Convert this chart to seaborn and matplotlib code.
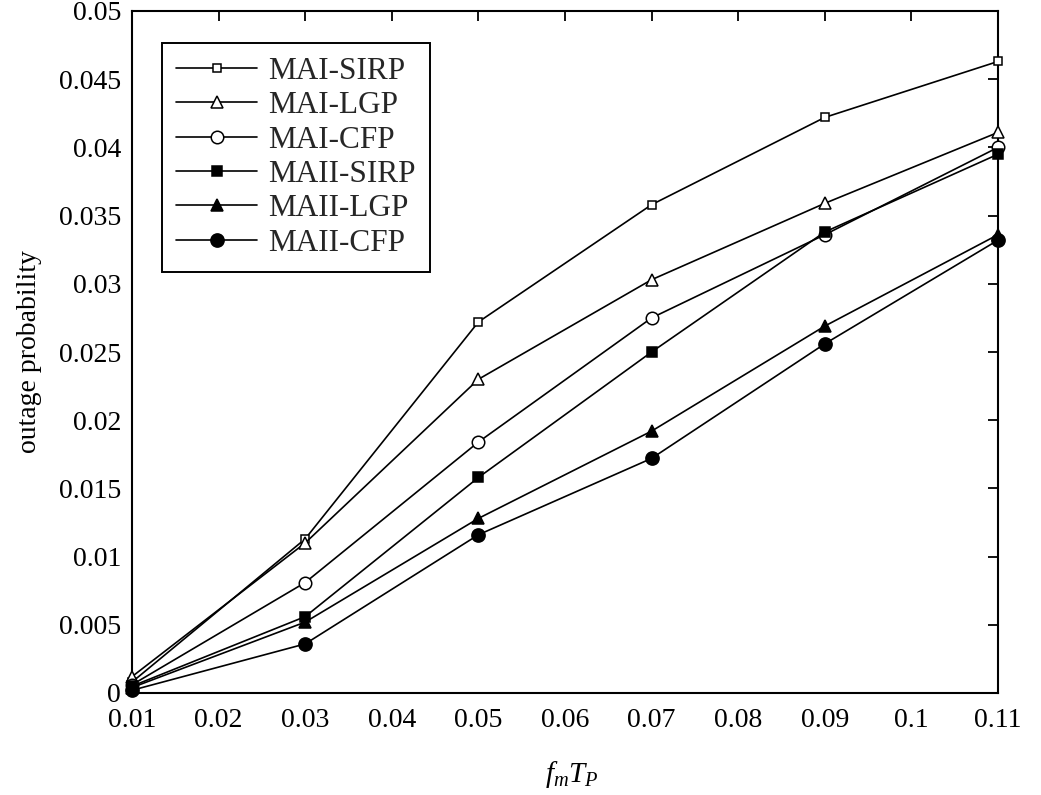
import matplotlib
matplotlib.use("Agg")
import matplotlib.pyplot as plt
import seaborn as sns
import pandas as pd

x_vals = [0.01, 0.03, 0.05, 0.07, 0.09, 0.11]

mai_sirp = [0.0008, 0.0113, 0.0272, 0.0358, 0.0422, 0.0463]
mai_lgp = [0.0012, 0.0110, 0.0230, 0.0303, 0.0359, 0.0411]
mai_cfp = [0.0006, 0.0081, 0.0184, 0.0275, 0.0336, 0.0400]
maii_sirp = [0.0005, 0.0056, 0.0158, 0.0250, 0.0338, 0.0395]
maii_lgp = [0.0004, 0.0052, 0.0128, 0.0192, 0.0269, 0.0336]
maii_cfp = [0.0002, 0.0036, 0.0116, 0.0172, 0.0256, 0.0332]

series_names = ["MAI-SIRP", "MAI-LGP", "MAI-CFP", "MAII-SIRP", "MAII-LGP", "MAII-CFP"]
series_vals = [mai_sirp, mai_lgp, mai_cfp, maii_sirp, maii_lgp, maii_cfp]

x_ticks = [0.01, 0.02, 0.03, 0.04, 0.05, 0.06, 0.07, 0.08, 0.09, 0.1, 0.11]
x_tick_labels = ["0.01", "0.02", "0.03", "0.04", "0.05", "0.06", "0.07", "0.08", "0.09", "0.1", "0.11"]
y_ticks = [0, 0.005, 0.01, 0.015, 0.02, 0.025, 0.03, 0.035, 0.04, 0.045, 0.05]
y_tick_labels = ["0", "0.005", "0.01", "0.015", "0.02", "0.025", "0.03", "0.035", "0.04", "0.045", "0.05"]

sns.set_theme(style="white")
plt.rcParams["font.family"] = ["Liberation Serif", "DejaVu Serif"]
plt.rcParams["mathtext.fontset"] = "custom"
plt.rcParams["mathtext.rm"] = "Liberation Serif"
plt.rcParams["mathtext.it"] = "Liberation Serif:italic"

rows = []
for name, vals in zip(series_names, series_vals):
    for xv, yv in zip(x_vals, vals):
        rows.append({"x": xv, "y": yv, "series": name})
df = pd.DataFrame(rows)

styles = {
    "MAI-SIRP": dict(marker="s", ms=5.5, mfc="white"),
    "MAI-LGP": dict(marker="^", ms=8, mfc="white"),
    "MAI-CFP": dict(marker="o", ms=9, mfc="white"),
    "MAII-SIRP": dict(marker="s", ms=6.5, mfc="black"),
    "MAII-LGP": dict(marker="^", ms=8, mfc="black"),
    "MAII-CFP": dict(marker="o", ms=9.5, mfc="black"),
}

fig = plt.figure(figsize=(10.41, 7.95), dpi=100)
ax = fig.add_axes([132 / 1041, 102 / 795, 866 / 1041, 682 / 795])

for name in series_names:
    st = styles[name]
    sub = df[df["series"] == name]
    sns.lineplot(data=sub, x="x", y="y", ax=ax, color="black", lw=1.2,
                 marker=st["marker"], markersize=st["ms"], markerfacecolor=st["mfc"],
                 markeredgecolor="black", markeredgewidth=1.1, label=name,
                 errorbar=None, clip_on=False, zorder=3)

ax.set_xlim(0.01, 0.11)
ax.set_ylim(0, 0.05)
ax.set_xticks(x_ticks)
ax.set_xticklabels(x_tick_labels)
ax.set_yticks(y_ticks)
ax.set_yticklabels(y_tick_labels)
ax.tick_params(direction="in", length=7, width=1.3, labelsize=20, colors="black",
               top=True, right=True, pad=8)
ax.tick_params(axis="x", pad=11)
for sp in ax.spines.values():
    sp.set_visible(True)
    sp.set_color("black")
    sp.set_linewidth(1.5)

ax.set_xlabel("$f_mT_P$", fontsize=21, color="black")
ax.xaxis.set_label_coords(0.508, -0.097)
ax.set_ylabel("outage probability", fontsize=20, color="black", labelpad=12)

leg = ax.legend(loc="upper left", bbox_to_anchor=(30 / 866, 1 - 32 / 682),
                fontsize=22.5, frameon=True, fancybox=False, framealpha=1,
                edgecolor="black", handlelength=2.6, labelspacing=0.17,
                handletextpad=0.35, borderpad=0.45, borderaxespad=0)
leg.get_frame().set_linewidth(1.4)

fig.savefig("out.png", dpi=100)
